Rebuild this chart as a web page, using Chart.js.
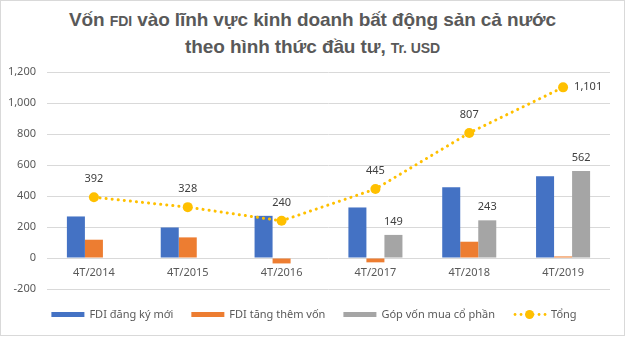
<!DOCTYPE html>
<html>
<head>
<meta charset="utf-8">
<script src="https://cdn.jsdelivr.net/npm/chart.js@4.4.1/dist/chart.umd.min.js"></script>
<style>
  body { margin: 0; background: #fff; }
  #wrap { position: relative; width: 628px; height: 340px; }
  #frame { position: absolute; left: 0; top: 0; width: 625px; height: 336px; border: 1px solid #d9d9d9; box-sizing: border-box; }
  #title { position: absolute; left: 0; top: 7px; width: 625px; text-align: center; font-family: "Liberation Sans", Arial, sans-serif; font-weight: bold; font-size: 19px; line-height: 25px; color: #595959; letter-spacing: -0.1px; }
  #title small { font-size: 14px; }
  canvas { position: absolute; left: 0; top: 0; }
</style>
</head>
<body>
<div id="wrap">
  <div id="frame"></div>
  <div id="title">Vốn <small>FDI</small> vào lĩnh vực kinh doanh bất động sản cả nước<br>theo hình thức đầu tư, <small>Tr. USD</small></div>
  <canvas id="fdiChart" width="628" height="340"></canvas>
</div>
<script>
const periods = ["4T/2014", "4T/2015", "4T/2016", "4T/2017", "4T/2018", "4T/2019"];
const newRegistered = [268, 197, 272, 326, 457, 528];
const addedCapital = [118, 133, -35, -28, 105, 10];
const sharePurchase = [null, null, null, 149, 243, 562];
const totalCapital = [392, 328, 240, 445, 807, 1101];
const yTicks = { min: -200, max: 1200, step: 200 };

const fontFamily = "'Noto Sans', 'Open Sans', sans-serif";
const fmt = v => v.toLocaleString("en-US");

// value labels: gray bars and the total line
const valueLabels = {
  id: "valueLabels",
  afterDatasetsDraw(chart) {
    const c = chart.ctx;
    c.save();
    c.font = "11px " + fontFamily;
    c.fillStyle = "#404040";
    c.textBaseline = "middle";

    chart.getDatasetMeta(2).data.forEach((bar, i) => {
      const v = sharePurchase[i];
      if (v == null) return;
      c.textAlign = "center";
      c.fillText(fmt(v), bar.x, bar.y - 13);
    });

    const pts = chart.getDatasetMeta(3).data;
    pts.forEach((pt, i) => {
      const txt = fmt(totalCapital[i]);
      if (i === pts.length - 1) {
        c.textAlign = "left";
        c.fillText(txt, pt.x + 11, pt.y);
      } else {
        c.textAlign = "center";
        c.fillText(txt, pt.x, pt.y - 18);
      }
    });
    c.restore();
  }
};

// legend drawn in one row under the plot
const bottomLegend = {
  id: "bottomLegend",
  afterDraw(chart) {
    const c = chart.ctx;
    const y = 314.5;
    const boxW = 33, boxH = 5, gap = 5, itemGap = 18;
    c.save();
    c.font = "11px " + fontFamily;
    c.textBaseline = "middle";
    c.textAlign = "left";
    const items = chart.data.datasets.map(ds => ({
      ds, w: boxW + gap + c.measureText(ds.label).width
    }));
    const total = items.reduce((s, it) => s + it.w, 0) + itemGap * (items.length - 1);
    let x = (chart.width - total) / 2;
    items.forEach(({ ds, w }) => {
      if (ds.type === "line") {
        c.fillStyle = ds.borderColor;
        for (let dx = 2; dx < boxW; dx += 6) {
          c.beginPath();
          c.arc(x + dx, y, 1.4, 0, Math.PI * 2);
          c.fill();
        }
        c.beginPath();
        c.arc(x + boxW / 2, y, 4.5, 0, Math.PI * 2);
        c.fill();
      } else {
        c.fillStyle = ds.backgroundColor;
        c.fillRect(x, y - boxH / 2, boxW, boxH);
      }
      c.fillStyle = "#595959";
      c.fillText(ds.label, x + boxW + gap, y);
      x += w + itemGap;
    });
    c.restore();
  }
};

new Chart(document.getElementById("fdiChart"), {
  type: "bar",
  data: {
    labels: periods,
    datasets: [
      { label: "FDI đăng ký mới", data: newRegistered, backgroundColor: "#4472C4", order: 2 },
      { label: "FDI tăng thêm vốn", data: addedCapital, backgroundColor: "#ED7D31", order: 2 },
      { label: "Góp vốn mua cổ phần", data: sharePurchase, backgroundColor: "#A5A5A5", order: 2 },
      {
        type: "line",
        label: "Tổng",
        data: totalCapital,
        borderColor: "#FFC000",
        backgroundColor: "#FFC000",
        borderWidth: 3,
        borderCapStyle: "round",
        borderDash: [0.1, 6],
        pointRadius: 5,
        pointBackgroundColor: "#FFC000",
        pointBorderWidth: 0,
        fill: false,
        tension: 0,
        order: 1
      }
    ]
  },
  options: {
    responsive: false,
    animation: false,
    layout: { padding: { top: 72, bottom: 51, left: 7, right: 18 } },
    plugins: {
      legend: { display: false },
      tooltip: { enabled: false }
    },
    datasets: {
      bar: { categoryPercentage: 0.576, barPercentage: 1 }
    },
    scales: {
      x: {
        position: { y: 0 },
        grid: { display: false, drawTicks: false },
        border: { display: false },
        ticks: { padding: 8, color: "#595959", font: { family: fontFamily, size: 11 } }
      },
      y: {
        min: yTicks.min,
        max: yTicks.max,
        afterFit: s => { s.width = 40; },
        grid: { color: "#d9d9d9", drawTicks: false },
        border: { display: false },
        ticks: {
          stepSize: yTicks.step,
          padding: 11,
          color: "#595959",
          font: { family: fontFamily, size: 11 },
          callback: v => fmt(v)
        }
      }
    }
  },
  plugins: [valueLabels, bottomLegend]
});
</script>
</body>
</html>
